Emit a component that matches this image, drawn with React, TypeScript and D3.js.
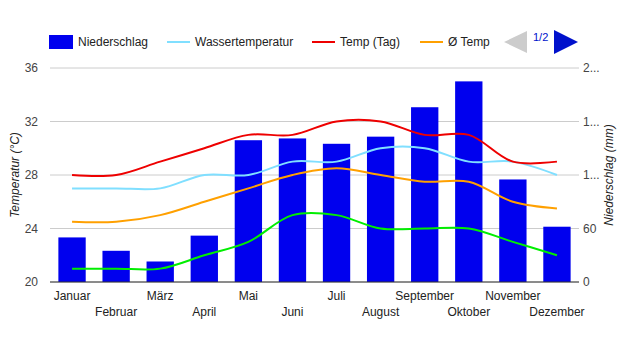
import React from "react";
import * as d3 from "d3";

const months = ["Januar","Februar","März","April","Mai","Juni","Juli","August","September","Oktober","November","Dezember"];
const niederschlag = [50, 35, 23, 52, 159, 161, 155, 163, 196, 225, 115, 62];
const wassertemp = [27, 27, 27, 28, 28, 29, 29, 30, 30, 29, 29, 28];
const tempTag = [28, 28, 29, 30, 31, 31, 32, 32, 31, 31, 29, 29];
const tempAvg = [24.5, 24.5, 25, 26, 27, 28, 28.5, 28, 27.5, 27.5, 26, 25.5];
const tempNacht = [21, 21, 21, 22, 23, 25, 25, 24, 24, 24, 23, 22];
const leftTicks = [20, 24, 28, 32, 36];
const rightTicks = [0, 60, 120, 180, 240];
const rightTickLabels = ["0", "60", "1...", "1...", "2..."];

const W = 617, H = 350;
const L = 50, R = 579, T = 68, B = 282;
const FONT = "Arial, 'Liberation Sans', sans-serif";

export default function App() {
  const x = d3.scaleBand<string>().domain(months).range([L, R]).paddingInner(0.38).paddingOuter(0.19);
  const yL = d3.scaleLinear().domain([20, 36]).range([B, T]);
  const yR = d3.scaleLinear().domain([0, 240]).range([B, T]);
  const cx = (m: string) => (x(m) as number) + x.bandwidth() / 2;
  const line = d3.line<number>().x((_, i) => cx(months[i])).y((v) => yL(v)).curve(d3.curveCatmullRom.alpha(0.5));
  const series = [
    { data: wassertemp, color: "#80dfff" },
    { data: tempTag, color: "#ee0000" },
    { data: tempAvg, color: "#ffa000" },
    { data: tempNacht, color: "#00ee00" },
  ];
  const legend = [
    { label: "Wassertemperatur", color: "#80dfff", x0: 167, tx: 195 },
    { label: "Temp (Tag)", color: "#ee0000", x0: 312, tx: 340 },
    { label: "Ø Temp", color: "#ffa000", x0: 420, tx: 448 },
  ];
  return (
    <svg width={W} height={H} style={{ position: "absolute", left: 0, top: 0, background: "#fff" }} fontFamily={FONT}>
      {leftTicks.map((t) => (
        <line key={"g" + t} x1={L} x2={R} y1={yL(t)} y2={yL(t)} stroke="#cccccc" strokeWidth={1} />
      ))}
      {leftTicks.map((t) => (
        <text key={"l" + t} x={38} y={yL(t) + 4} textAnchor="end" fontSize={12} fill="#444">{t}</text>
      ))}
      {rightTicks.map((t, i) => (
        <text key={"r" + t} x={583} y={yR(t) + 4} textAnchor="start" fontSize={12} fill="#444">{rightTickLabels[i]}</text>
      ))}
      {months.map((m, i) => (
        <rect key={m} x={x(m)} y={yR(niederschlag[i])} width={x.bandwidth()} height={B - yR(niederschlag[i])} fill="#0000ee" />
      ))}
      {series.map((s, i) => (
        <path key={i} d={line(s.data) || ""} fill="none" stroke={s.color} strokeWidth={2} />
      ))}
      <line x1={L} x2={R} y1={B} y2={B} stroke="#333" strokeWidth={1} />
      {months.map((m, i) => (
        <text key={"x" + m} x={cx(m)} y={i % 2 === 0 ? 300 : 316} textAnchor="middle" fontSize={12} fill="#222">{m}</text>
      ))}
      <text transform={`translate(19,${(T + B) / 2}) rotate(-90)`} textAnchor="middle" fontSize={12} fontStyle="italic" fill="#222">Temperatur (°C)</text>
      <text transform={`translate(613,${(T + B) / 2}) rotate(-90)`} textAnchor="middle" fontSize={12} fontStyle="italic" fill="#222">Niederschlag (mm)</text>
      <rect x={49} y={35} width={24} height={14} fill="#0000ee" />
      <text x={78} y={46} fontSize={12} fill="#222">Niederschlag</text>
      {legend.map((l) => (
        <g key={l.label}>
          <line x1={l.x0} x2={l.x0 + 23} y1={42} y2={42} stroke={l.color} strokeWidth={2} />
          <text x={l.tx} y={46} fontSize={12} fill="#222">{l.label}</text>
        </g>
      ))}
      <path d="M504,42 L527,31 L527,53 Z" fill="#cccccc" />
      <text x={533} y={41} fontSize={11} fill="#0011cc">1/2</text>
      <path d="M554,30 L578,42 L554,54 Z" fill="#0011cc" />
    </svg>
  );
}
